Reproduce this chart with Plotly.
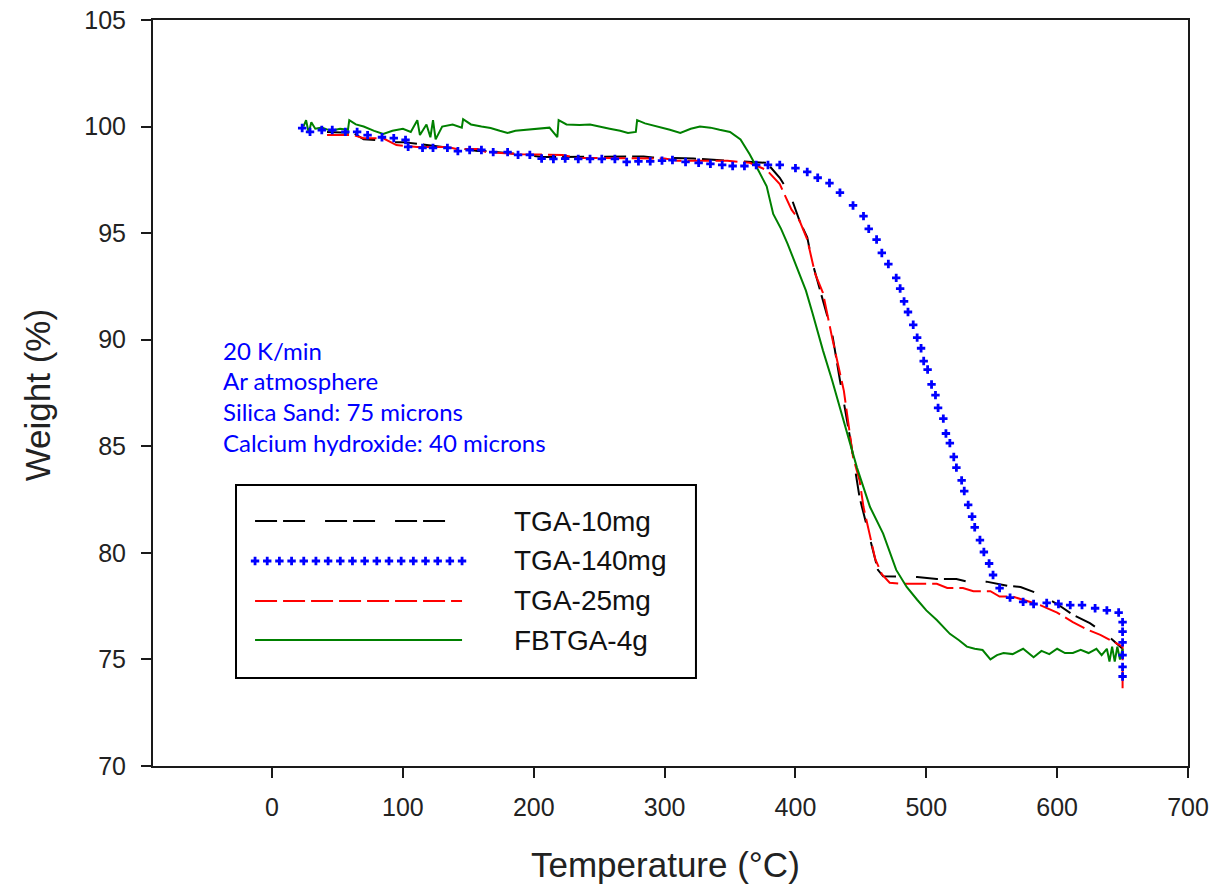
import numpy as np
import plotly.graph_objects as go

# TGA-10mg (black, dashed)
tga10_temp = [42, 62, 70, 85, 93, 100, 136, 141, 157, 164, 190, 207, 218, 250, 284, 291, 314, 322, 340, 350,
              370, 378, 388, 396, 403, 409, 413, 421, 428, 434, 442, 449, 455, 463, 467, 493, 508, 523, 531, 546,
              562, 572, 587, 600, 612, 625, 638, 646, 650]
tga10_weight = [99.75, 99.7, 99.4, 99.35, 99.27, 99.27, 99.0, 99.0, 98.85, 98.85, 98.7, 98.57, 98.57, 98.6, 98.6,
                98.55, 98.53, 98.5, 98.43, 98.4, 98.35, 98.3, 97.6, 96.8, 95.6, 94.8, 93.6, 91.9, 90.3, 88.1,
                85.3, 82.6, 81.2, 79.2, 78.9, 78.87, 78.77, 78.77, 78.65, 78.65, 78.45, 78.4, 78.05, 77.6, 77.1,
                76.7, 76.15, 75.7, 75.5]

# TGA-140mg (blue crosses)
tga140_temp = [23, 29, 38, 46, 56, 65, 73, 84, 93, 102, 104, 115, 123, 134, 142, 151, 160, 169, 180, 188,
               197, 206, 215, 224, 234, 243, 252, 262, 271, 280, 289, 298, 306, 316, 326, 335, 344, 352, 361, 370,
               379, 388, 400, 409, 417, 426, 434, 444, 452, 456, 462, 466, 471, 477, 480, 483, 486, 490, 493, 496,
               498, 501, 504, 507, 509, 513, 515, 518, 521, 523, 527, 529, 532, 535, 537, 541, 544, 548, 551, 556,
               564, 574, 582, 592, 601, 610, 619, 629, 638, 647, 650, 650, 650, 650, 650, 650]
tga140_weight = [99.93, 99.75, 99.84, 99.84, 99.75, 99.75, 99.6, 99.5, 99.46, 99.37, 99.05, 99.0, 99.0, 99.0,
                 98.85, 98.9, 98.9, 98.8, 98.8, 98.67, 98.67, 98.5, 98.48, 98.5, 98.48, 98.48, 98.48, 98.48,
                 98.34, 98.37, 98.37, 98.4, 98.43, 98.34, 98.3, 98.25, 98.2, 98.15, 98.15, 98.2, 98.2, 98.2,
                 98.05, 97.87, 97.6, 97.35, 96.9, 96.3, 95.8, 95.2, 94.7, 94.07, 93.55, 92.9, 92.4, 91.8, 91.3,
                 90.7, 90.1, 89.6, 89.0, 88.6, 87.9, 87.4, 86.8, 86.3, 85.6, 85.15, 84.5, 84.0, 83.4, 82.9, 82.25,
                 81.7, 81.2, 80.6, 80.04, 79.5, 78.96, 78.35, 77.9, 77.7, 77.6, 77.65, 77.6, 77.55, 77.55, 77.4,
                 77.3, 77.2, 76.75, 76.3, 75.8, 75.2, 74.65, 74.2]

# TGA-25mg (red, dashed)
tga25_temp = [42, 62, 70, 85, 95, 111, 134, 141, 157, 164, 190, 203, 222, 233, 281, 291, 300, 310, 348, 365,
              378, 388, 397, 403, 409, 415, 421, 428, 437, 444, 449, 452, 457, 461, 466, 472, 482, 508, 516, 528,
              536, 549, 556, 566, 587, 600, 612, 623, 633, 646, 650, 650]
tga25_weight = [99.6, 99.6, 99.45, 99.45, 99.13, 99.04, 99.04, 98.95, 98.95, 98.8, 98.7, 98.7, 98.67, 98.53,
                98.53, 98.5, 98.5, 98.4, 98.4, 98.3, 97.96, 97.3, 96.1, 95.6, 94.7, 93.1, 92.2, 90.1, 87.6, 84.5,
                83.4, 82.15, 80.7, 79.7, 79.0, 78.6, 78.55, 78.55, 78.35, 78.35, 78.2, 78.2, 77.95, 77.95, 77.55,
                77.2, 76.75, 76.4, 76.15, 75.7, 75.6, 73.6]

# FBTGA-4g (green, solid, noisy)
fbtga_temp = [24, 26, 28, 30, 33, 38, 45, 52, 58, 59, 64, 70, 78, 85, 92, 100, 106, 111, 113, 118,
              121, 123, 125, 130, 138, 145, 146, 152, 160, 167, 174, 180, 186, 195, 205, 212, 218, 219, 225, 235,
              243, 251, 258, 266, 272, 278, 279, 285, 292, 296, 304, 312, 320, 327, 335, 342, 350, 358, 365, 372,
              378, 383, 389, 394, 403, 408, 413, 421, 428, 437, 447, 457, 467, 477, 485, 493, 500, 508, 513, 518,
              525, 531, 537, 543, 549, 554, 559, 566, 574, 578, 582, 588, 594, 600, 606, 612, 618, 624, 630, 634,
              638, 640, 642, 644, 646, 648, 650, 650]
fbtga_weight = [100.0, 100.3, 99.7, 100.2, 99.9, 99.95, 99.8, 99.9, 99.85, 100.3, 100.1, 100.0, 99.8, 99.65,
                99.8, 99.9, 99.75, 100.3, 99.6, 100.1, 99.5, 100.3, 99.4, 100.0, 100.1, 99.95, 100.35, 100.1,
                100.0, 99.93, 99.8, 99.7, 99.8, 99.85, 99.9, 99.95, 99.5, 100.3, 100.1, 100.07, 100.1, 99.98,
                99.9, 99.8, 99.7, 99.75, 100.3, 100.15, 100.05, 100.0, 99.85, 99.7, 99.9, 100.0, 99.95, 99.85,
                99.75, 99.4, 98.7, 97.9, 97.2, 95.9, 95.2, 94.5, 93.1, 92.3, 91.25, 89.5, 88.1, 86.2, 84.0,
                82.15, 80.9, 79.2, 78.4, 77.8, 77.3, 76.85, 76.5, 76.2, 75.9, 75.6, 75.5, 75.44, 75.0, 75.2,
                75.3, 75.25, 75.5, 75.3, 75.1, 75.4, 75.25, 75.5, 75.3, 75.3, 75.45, 75.3, 75.5, 75.2, 75.5,
                74.9, 75.6, 74.9, 75.6, 75.0, 75.5, 75.1]

series_names = ["TGA-10mg", "TGA-140mg", "TGA-25mg", "FBTGA-4g"]
notes = ["20 K/min", "Ar atmosphere", "Silica Sand: 75 microns", "Calcium hydroxide: 40 microns"]

BLACK_DASH = "22px,6px,22px,20px"
RED_DASH = "22px,6px"
AXIS_FONT = "Liberation Sans, Arial"

fig = go.Figure()

fig.add_trace(go.Scatter(x=tga10_temp, y=tga10_weight, mode="lines", name=series_names[0],
                         line=dict(color="black", width=2, dash=BLACK_DASH)))
fig.add_trace(go.Scatter(x=tga25_temp, y=tga25_weight, mode="lines", name=series_names[2],
                         line=dict(color="#ff0000", width=2, dash=RED_DASH)))
fig.add_trace(go.Scatter(x=fbtga_temp, y=fbtga_weight, mode="lines", name=series_names[3],
                         line=dict(color="#008000", width=2)))
fig.add_trace(go.Scatter(x=tga140_temp, y=tga140_weight, mode="markers", name=series_names[1],
                         marker=dict(symbol="cross", size=7, color="#0000ff", line=dict(width=0))))

# hand-made legend, drawn on a hidden 0..1 overlay axis
leg_x0, leg_x1 = 0.0986, 0.2986
leg_rows = [0.3284, 0.2748, 0.2212, 0.1689]
fig.add_trace(go.Scatter(x=[leg_x0, leg_x1], y=[leg_rows[0]] * 2, mode="lines", xaxis="x2", yaxis="y2",
                         line=dict(color="black", width=2, dash=BLACK_DASH), showlegend=False, hoverinfo="skip"))
cross_x = np.linspace(leg_x0, leg_x1, 18)
fig.add_trace(go.Scatter(x=cross_x, y=[leg_rows[1]] * len(cross_x), mode="markers", xaxis="x2", yaxis="y2",
                         marker=dict(symbol="cross", size=7, color="#0000ff", line=dict(width=0)),
                         showlegend=False, hoverinfo="skip"))
fig.add_trace(go.Scatter(x=[leg_x0, leg_x1], y=[leg_rows[2]] * 2, mode="lines", xaxis="x2", yaxis="y2",
                         line=dict(color="#ff0000", width=2, dash=RED_DASH), showlegend=False, hoverinfo="skip"))
fig.add_trace(go.Scatter(x=[leg_x0, leg_x1], y=[leg_rows[3]] * 2, mode="lines", xaxis="x2", yaxis="y2",
                         line=dict(color="#008000", width=2), showlegend=False, hoverinfo="skip"))

fig.add_shape(type="rect", xref="paper", yref="paper", x0=0.0802, x1=0.5246, y0=0.118, y1=0.3767,
              line=dict(color="black", width=2))

annotations = []
for name, yy in zip(series_names, leg_rows):
    annotations.append(dict(x=0.3469, y=yy, xref="paper", yref="paper", text=name, showarrow=False,
                            xanchor="left", yanchor="middle",
                            font=dict(family=AXIS_FONT, size=28, color="#111")))

for i, line in enumerate(notes):
    annotations.append(dict(x=0.0657, y=0.5576 - i * 0.0415, xref="paper", yref="paper", text=line,
                            showarrow=False, xanchor="left", yanchor="middle",
                            font=dict(family="Lato, Open Sans", size=24, color="#0000ff")))

# axis titles
annotations.append(dict(x=0.4947, y=-0.1327, xref="paper", yref="paper", text="Temperature (°C)",
                        showarrow=False, xanchor="center", yanchor="middle",
                        font=dict(family=AXIS_FONT, size=35, color="#222")))
annotations.append(dict(x=-0.112, y=0.497, xref="paper", yref="paper", text="Weight (%)", textangle=-90,
                        showarrow=False, xanchor="center", yanchor="middle",
                        font=dict(family=AXIS_FONT, size=35, color="#222")))

fig.update_layout(
    width=1211, height=886,
    margin=dict(l=153, r=23, t=20, b=120),
    paper_bgcolor="white", plot_bgcolor="white",
    showlegend=False,
    annotations=annotations,
    xaxis=dict(range=[-91, 700], tick0=0, dtick=100, showgrid=False, zeroline=False, automargin=False,
               showline=True, linecolor="#1a1a1a", linewidth=2, mirror=True, ticklabeloverflow="allow",
               ticks="outside", ticklen=10, tickwidth=2, tickcolor="#1a1a1a", ticklabelstandoff=8,
               tickfont=dict(family=AXIS_FONT, size=25, color="#222")),
    yaxis=dict(range=[70, 105], dtick=5, showgrid=False, zeroline=False, automargin=False,
               showline=True, linecolor="#1a1a1a", linewidth=2, mirror=True, ticklabeloverflow="allow",
               ticks="outside", ticklen=10, tickwidth=2, tickcolor="#1a1a1a", ticklabelstandoff=10,
               tickfont=dict(family=AXIS_FONT, size=25, color="#222")),
    xaxis2=dict(overlaying="x", range=[0, 1], visible=False),
    yaxis2=dict(overlaying="y", range=[0, 1], visible=False),
)

# drop the browser's default body margin so the 1211x886 figure fills the window exactly
fig.write_html("out.html", config={"displayModeBar": False},
               post_script="document.body.style.margin='0';document.body.style.overflow='hidden';")
